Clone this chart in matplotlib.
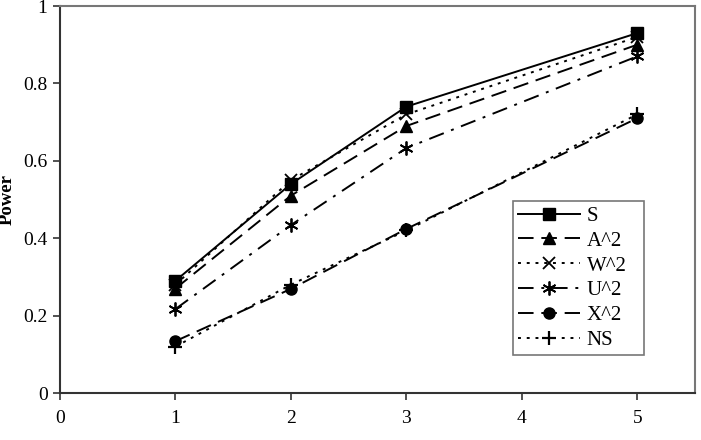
import matplotlib
matplotlib.use("Agg")
import matplotlib.pyplot as plt

x = [1, 2, 3, 5]
S = [0.29, 0.54, 0.74, 0.93]
A2 = [0.27, 0.51, 0.69, 0.90]
W2 = [0.28, 0.55, 0.72, 0.92]
U2 = [0.217, 0.434, 0.633, 0.87]
X2 = [0.134, 0.269, 0.424, 0.71]
NS = [0.12, 0.28, 0.42, 0.72]
labels = ["S", "A^2", "W^2", "U^2", "X^2", "NS"]
xticks = [0, 1, 2, 3, 4, 5]
yticks = [0, 0.2, 0.4, 0.6, 0.8, 1]

plt.rcParams['font.family'] = ['Liberation Serif', 'DejaVu Serif']

fig = plt.figure(figsize=(7.01, 4.40), dpi=100)
ax = fig.add_axes([0.0856, 0.1068, 0.9058, 0.8795])

series = [S, A2, W2, U2, X2, NS]
styles = [
    dict(ls='-', marker='s', ms=8),
    dict(ls=(0, (8, 4)), marker='^', ms=8),
    dict(ls=(0, (1.5, 3)), marker='x', ms=8, mew=1.3),
    dict(ls=(0, (8, 4, 1.5, 4)), marker=(6, 2, 0), ms=10, mew=1.3),
    dict(ls=(0, (8, 4)), marker='o', ms=8),
    dict(ls=(0, (1.5, 3)), marker='+', ms=10, mew=1.6),
]
for ys, lab, st in zip(series, labels, styles):
    ax.plot(x, ys, color='black', lw=1.4, label=lab, mfc='black', mec='black', **st)

ax.set_xlim(0, 5.5)
ax.set_ylim(0, 1)
ax.set_xticks(xticks)
ax.set_xticklabels([str(v) for v in xticks])
ax.set_yticks(yticks)
ax.set_yticklabels(['0', '0.2', '0.4', '0.6', '0.8', '1'])
ax.tick_params(axis='both', labelsize=14, direction='out', length=5, width=1.2, color='#333333')
ax.tick_params(axis='x', pad=7)
ax.tick_params(axis='y', pad=4)
for s in ['left', 'bottom']:
    ax.spines[s].set_color('#333333')
    ax.spines[s].set_linewidth(1.5)
for s in ['top', 'right']:
    ax.spines[s].set_color('#777777')
    ax.spines[s].set_linewidth(1.5)

ax.set_ylabel('Power', fontsize=13.5, fontweight='bold', labelpad=5)

leg = ax.legend(loc='lower left', bbox_to_anchor=(0.713, 0.098, 0.207, 0.396), mode='expand',
                borderaxespad=0,
                fontsize=15, frameon=True, fancybox=False, handlelength=3.0,
                borderpad=0.25, labelspacing=0.25, handletextpad=0.3)
leg.get_frame().set_edgecolor('#555555')
leg.get_frame().set_linewidth(1.2)

fig.savefig('out.png', dpi=100)
